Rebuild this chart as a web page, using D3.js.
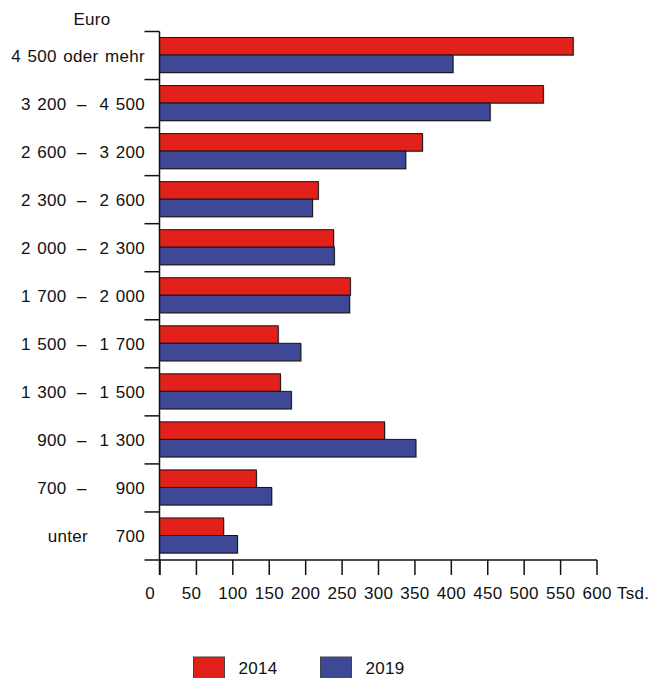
<!DOCTYPE html>
<html>
<head>
<meta charset="utf-8">
<script src="https://cdn.jsdelivr.net/npm/d3@7"></script>
<style>
  body { margin: 0; background: #fff; }
  text { font-family: "Liberation Sans", Arial, sans-serif; font-size: 17px; letter-spacing: 0.3px; word-spacing: 1.5px; fill: #111; }
</style>
</head>
<body>
<div id="chart"></div>
<script>
const rangeFrom = ['4 500 oder mehr', '3 200', '2 600', '2 300', '2 000', '1 700', '1 500', '1 300', '900', '700', 'unter'];
const rangeTo = ['', '4 500', '3 200', '2 600', '2 300', '2 000', '1 700', '1 500', '1 300', '900', '700'];
const categories = rangeFrom.map((f, i) => rangeTo[i] ? f + ' – ' + rangeTo[i] : f);
const years = ['2014', '2019'];
const values2014 = [568, 527, 361, 218, 239, 262, 163, 166, 309, 133, 88];
const values2019 = [403, 454, 338, 210, 240, 261, 194, 181, 352, 154, 107];
const xTicks = [0, 50, 100, 150, 200, 250, 300, 350, 400, 450, 500, 550, 600];
const colors = {'2014': '#e3211b', '2019': '#3e4897'};

const width = 654;
const height = 678;
const mLeft = 159.5, mRight = 596.5, mTop = 31.5, mBottom = 560;

const svg = d3.select('#chart')
    .append('svg')
    .attr('width', width)
    .attr('height', height);

const x = d3.scaleLinear().domain([0, 600]).range([mLeft, mRight]);
const y = d3.scaleBand().domain(categories).range([mTop, mBottom]);
const bw = y.bandwidth();
const y1 = d3.scaleBand().domain(years).range([bw * 0.125, bw * 0.855]);

const rows = categories.map((c, i) => ({cat: c, '2014': values2014[i], '2019': values2019[i]}));

// bars (with the faint grey shadow of the original)
years.forEach(yr => {
    svg.selectAll('rect.shadow' + yr).data(rows).enter()
        .append('rect')
        .attr('x', x(0) + 1)
        .attr('y', d => y(d.cat) + y1(yr) + 1)
        .attr('width', d => x(d[yr]) - x(0))
        .attr('height', y1.bandwidth())
        .attr('fill', '#b5b5b5');
});
years.forEach(yr => {
    svg.selectAll('rect.bar' + yr).data(rows).enter()
        .append('rect')
        .attr('x', x(0))
        .attr('y', d => y(d.cat) + y1(yr))
        .attr('width', d => x(d[yr]) - x(0))
        .attr('height', y1.bandwidth())
        .attr('fill', colors[yr])
        .attr('stroke', '#151515')
        .attr('stroke-width', 1);
});

// y axis: line, ticks at band boundaries
svg.append('line')
    .attr('x1', mLeft).attr('x2', mLeft)
    .attr('y1', mTop).attr('y2', mBottom + 15)
    .attr('stroke', '#111').attr('stroke-width', 1.5);
const bounds = categories.map(c => y(c));
svg.selectAll('line.ytick').data(bounds).enter()
    .append('line')
    .attr('x1', mLeft - 15).attr('x2', mLeft)
    .attr('y1', d => d).attr('y2', d => d)
    .attr('stroke', '#111').attr('stroke-width', 1.5);

// y labels
const lab = svg.append('g');
categories.forEach((c, i) => {
    const cy = y(c) + bw / 2 + 6;
    if (!rangeTo[i]) {
        lab.append('text').attr('x', 145).attr('y', cy).attr('text-anchor', 'end').text(rangeFrom[i]);
        return;
    }
    const isUnter = rangeFrom[i] === 'unter';
    lab.append('text').attr('x', isUnter ? 88 : 66.5).attr('y', cy).attr('text-anchor', 'end').text(rangeFrom[i]);
    if (!isUnter) lab.append('text').attr('x', 82).attr('y', cy).attr('text-anchor', 'middle').text('–');
    lab.append('text').attr('x', 145).attr('y', cy).attr('text-anchor', 'end').text(rangeTo[i]);
});
svg.append('text').attr('x', 92).attr('y', 25).attr('text-anchor', 'middle').text('Euro');

// x axis
svg.append('line')
    .attr('x1', mLeft - 15).attr('x2', mRight + 0.5)
    .attr('y1', mBottom).attr('y2', mBottom)
    .attr('stroke', '#111').attr('stroke-width', 1.5);
const xAxis = d3.axisBottom(x).tickValues(xTicks).tickSize(15).tickSizeOuter(0).tickPadding(12);
const gx = svg.append('g').attr('transform', 'translate(0,' + mBottom + ')').call(xAxis);
gx.select('.domain').remove();
gx.selectAll('.tick line').attr('stroke', '#111').attr('stroke-width', 1.5);
gx.selectAll('.tick text')
    .attr('dx', d => d === 0 ? -10 : d === 50 ? -5 : 0)
    .attr('fill', '#111')
    .style('font-size', '17px');
svg.append('text').attr('x', 617).attr('y', 599).text('Tsd.');

// legend
const leg = svg.append('g');
years.forEach((yr, i) => {
    const lx = 193.5 + i * 127;
    leg.append('rect')
        .attr('x', lx).attr('y', 657)
        .attr('width', 31).attr('height', 22)
        .attr('fill', colors[yr])
        .attr('stroke', '#444').attr('stroke-width', 1);
    leg.append('text').attr('x', lx + 45).attr('y', 674).text(yr);
});
</script>
</body>
</html>
